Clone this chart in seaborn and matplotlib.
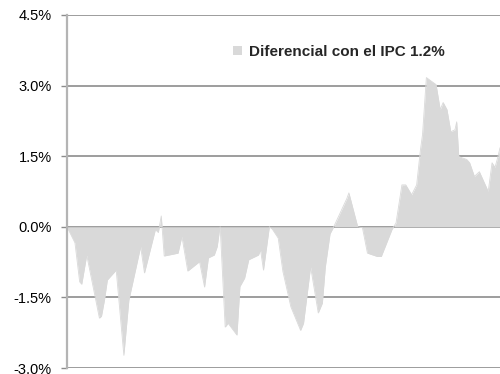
import matplotlib
matplotlib.use("Agg")
import matplotlib.pyplot as plt
import seaborn as sns
import numpy as np
import pandas as pd
from matplotlib.ticker import FuncFormatter

# Period index (months) and the spread vs CPI (%)
periodo = [0.0, 2.7, 4.3, 5.0, 6.7, 11.0, 11.7, 12.7, 13.7, 16.7, 19.3, 21.0,
           25.0, 26.3, 30.0, 31.0, 32.0, 33.0, 37.7, 39.0, 41.0, 45.0, 46.7,
           48.0, 50.0, 51.0, 51.7, 52.0, 53.7, 54.7, 57.7, 58.7, 60.3, 61.7,
           65.0, 65.7, 66.7, 68.7, 69.7, 71.7, 73.3, 76.0, 79.3, 80.3, 82.7,
           85.3, 86.7, 87.7, 89.3, 90.7, 95.0, 95.7, 98.7, 100.3, 102.0,
           105.3, 106.7, 110.3, 111.7, 113.7, 115.0, 117.0, 118.7, 120.0,
           120.7, 122.0, 125.3, 126.7, 127.7, 129.0, 130.3, 131.7, 132.3,
           133.0, 135.7, 136.7, 138.3, 140.0, 143.0, 144.3, 145.3, 146.3, 147.0]
diferencial = [0.0, -0.34, -1.17, -1.22, -0.60, -1.94, -1.90, -1.56, -1.13,
               -0.92, -2.73, -1.56, -0.42, -0.98, -0.06, -0.12, 0.23, -0.62,
               -0.56, -0.20, -0.94, -0.74, -1.28, -0.66, -0.60, -0.42, -0.10,
               0.0, -2.13, -2.05, -2.30, -1.27, -1.09, -0.70, -0.60, -0.49,
               -0.92, 0.0, -0.05, -0.24, -0.95, -1.70, -2.20, -2.05, -0.85,
               -1.83, -1.62, -0.85, -0.15, 0.02, 0.60, 0.72, 0.0, -0.02, -0.56,
               -0.63, -0.63, -0.06, 0.08, 0.89, 0.89, 0.68, 0.89, 1.64, 1.96,
               3.17, 3.02, 2.49, 2.64, 2.49, 2.02, 2.06, 2.23, 1.49, 1.43, 1.36,
               1.07, 1.17, 0.75, 1.36, 1.26, 1.49, 1.68]
y_ticks = [-3.0, -1.5, 0.0, 1.5, 3.0, 4.5]
serie = "Diferencial con el IPC 1.2%"

df = pd.DataFrame({"periodo": periodo, "diferencial": diferencial})

sns.set_theme(style="white")
plt.rcParams["font.family"] = ["Liberation Sans", "DejaVu Sans"]

fig = plt.figure(figsize=(5.0, 3.74), dpi=100)
ax = fig.add_axes([0.134, 0.016, 0.866, 0.944])

fill_c = "#d9d9d9"
sns.lineplot(data=df, x="periodo", y="diferencial", ax=ax, color=fill_c,
             linewidth=0.6, legend=False)
ax.fill_between(df["periodo"], df["diferencial"], 0, color=fill_c,
                linewidth=0, label=serie)

ax.set_xlim(min(periodo), max(periodo))
ax.set_ylim(y_ticks[0], y_ticks[-1])
ax.set_yticks(y_ticks)
ax.yaxis.set_major_formatter(FuncFormatter(lambda v, p: f"{v:.1f}%"))
ax.set_xticks([])
ax.set_xlabel("")
ax.set_ylabel("")

for yv in y_ticks:
    ax.axhline(yv, color="#8c8c8c", linewidth=1.2, zorder=0.5)

for s in ["top", "right", "bottom"]:
    ax.spines[s].set_visible(False)
ax.spines["left"].set_color("#b4b4b4")
ax.spines["left"].set_linewidth(1.6)

ax.tick_params(axis="y", which="major", direction="out", length=4,
               width=1.0, color="#8c8c8c", pad=7, labelsize=10.5,
               labelcolor="#000000", left=True)

leg = ax.legend(loc="center", bbox_to_anchor=(0.678, 0.862),
                bbox_transform=fig.transFigure, frameon=False,
                handlelength=0.55, handleheight=0.55, handletextpad=0.5,
                borderpad=0, borderaxespad=0,
                prop={"weight": "bold", "size": 11})

fig.savefig("out.png", dpi=100)
